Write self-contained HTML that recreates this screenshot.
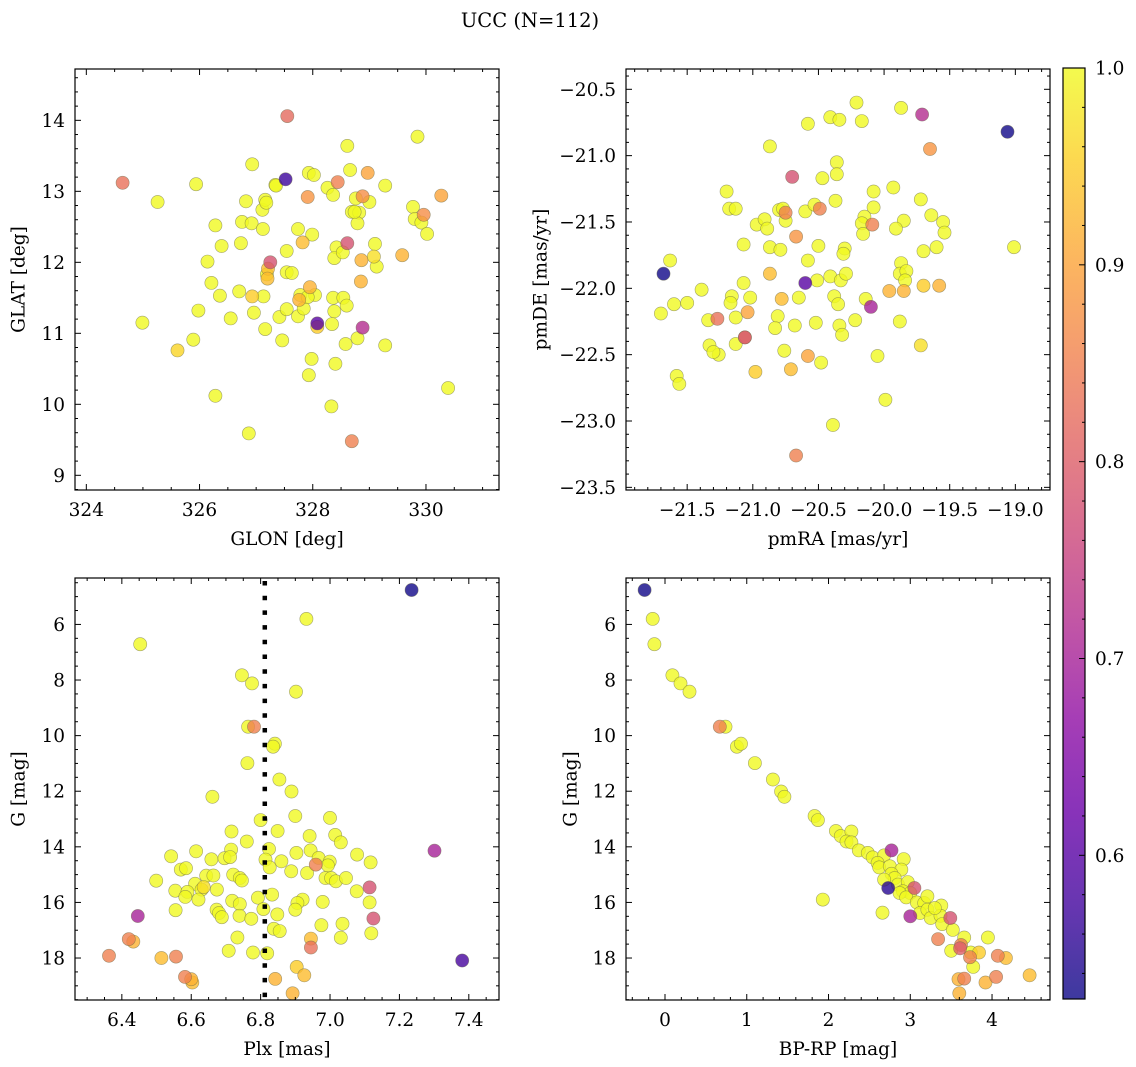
<!DOCTYPE html>
<html>
<head>
<meta charset="utf-8">
<style>
html,body{margin:0;padding:0;background:#fff;}
svg{display:block;}
text{font-family:"DejaVu Serif","Liberation Serif",serif;fill:#000;}
</style>
</head>
<body>
<svg id="fig" width="1136" height="1067" viewBox="0 0 1136 1067" xmlns="http://www.w3.org/2000/svg"></svg>
<script>
// ---------- Panel 1: GLON vs GLAT ----------
const p1Glon = [324.64,325.26,325.94,324.99,325.61,325.89,325.98,326.14,326.21,326.28,326.39,326.36,326.28,326.55,326.70,326.73,326.75,326.82,326.93,326.92,326.93,326.96,326.87,327.11,327.12,327.13,327.16,327.16,327.18,327.25,327.21,327.19,327.20,327.34,327.35,327.41,327.46,327.52,327.55,327.54,327.54,327.63,327.54,327.74,327.82,327.74,327.76,327.78,327.84,327.91,327.93,328.02,327.99,327.95,328.04,327.91,328.08,328.08,327.98,327.93,328.26,328.36,328.44,328.42,328.38,328.53,328.36,328.54,328.60,328.38,328.34,328.40,328.33,328.61,328.61,328.66,328.69,328.76,328.88,328.82,328.79,328.86,328.85,328.88,328.79,328.58,328.69,328.97,329.00,329.10,329.08,329.13,329.28,329.28,329.58,329.85,329.77,329.80,329.96,329.92,330.02,330.27,330.39,328.74];
const p1Glat = [13.12,12.85,13.10,11.15,10.76,10.91,11.32,12.01,11.71,12.52,12.23,11.53,10.12,11.21,11.59,12.27,12.57,12.86,13.38,12.55,11.52,11.29,9.59,12.74,12.47,11.52,11.06,12.88,12.84,12.00,11.91,11.83,11.77,13.09,13.08,11.23,10.90,13.17,14.06,12.16,11.86,11.85,11.34,12.47,12.28,11.24,11.47,11.54,11.35,12.92,13.26,13.23,12.39,11.65,11.54,11.51,11.14,11.09,10.64,10.41,13.05,12.95,13.13,12.21,12.06,12.14,11.50,11.50,11.39,11.31,11.13,10.57,9.97,12.27,13.64,13.30,12.71,12.90,12.93,12.70,12.55,12.03,11.73,11.08,10.93,10.85,9.48,13.26,12.85,12.26,12.08,11.94,13.08,10.83,12.10,13.77,12.78,12.61,12.67,12.56,12.40,12.94,10.23,12.71];
const p1Prob = [0.83,1,1,1,0.96,1,1,1,1,1,1,1,1,1,1,1,1,1,1,1,0.95,1,1,1,1,1,1,1,1,0.78,0.93,1,0.93,1,1,1,1,0.57,0.82,1,1,1,1,1,0.93,1,0.92,1,1,0.88,1,1,1,0.92,1,1,0.6,0.95,1,1,1,1,0.85,1,1,1,1,1,1,1,1,1,1,0.78,1,1,1,1,0.87,1,1,0.92,0.92,0.72,1,1,0.85,0.9,1,1,0.97,1,1,1,0.92,1,1,1,0.87,1,1,0.9,1,1];

// ---------- Panel 2: pmRA vs pmDE ----------
const p2Pmra = [-20.21,-19.87,-19.71,-19.06,-20.58,-20.41,-20.34,-20.17,-19.65,-20.87,-20.36,-20.36,-20.70,-20.47,-21.20,-21.18,-21.13,-20.80,-20.77,-20.75,-20.75,-20.60,-20.53,-20.49,-20.37,-20.08,-19.93,-19.72,-20.08,-20.15,-20.17,-20.09,-20.16,-19.85,-19.91,-19.64,-19.55,-19.54,-20.97,-20.91,-20.89,-20.67,-21.07,-20.87,-20.79,-20.50,-20.30,-20.31,-19.70,-19.60,-19.01,-21.63,-21.68,-20.58,-20.87,-20.60,-20.51,-20.41,-20.33,-20.29,-19.87,-19.88,-19.83,-19.84,-19.96,-19.85,-19.70,-19.58,-21.39,-21.07,-21.50,-21.60,-21.70,-21.16,-21.17,-21.02,-20.78,-20.65,-20.38,-20.35,-20.14,-20.10,-21.34,-21.27,-21.13,-21.04,-20.81,-20.83,-20.68,-20.52,-20.34,-20.32,-20.22,-19.88,-21.06,-21.06,-21.13,-21.33,-21.26,-21.30,-20.76,-20.58,-20.48,-20.71,-20.98,-20.05,-19.72,-21.58,-21.56,-19.99,-20.39,-20.67];
const p2Pmde = [-20.60,-20.64,-20.69,-20.82,-20.76,-20.71,-20.73,-20.74,-20.95,-20.93,-21.05,-21.14,-21.16,-21.17,-21.27,-21.40,-21.40,-21.41,-21.40,-21.43,-21.49,-21.42,-21.37,-21.40,-21.34,-21.27,-21.24,-21.33,-21.39,-21.46,-21.51,-21.52,-21.59,-21.49,-21.55,-21.45,-21.50,-21.58,-21.52,-21.48,-21.55,-21.61,-21.67,-21.69,-21.71,-21.68,-21.70,-21.74,-21.72,-21.69,-21.69,-21.79,-21.89,-21.79,-21.89,-21.96,-21.94,-21.91,-21.94,-21.89,-21.81,-21.89,-21.87,-21.94,-22.02,-22.02,-21.98,-21.98,-22.01,-21.96,-22.11,-22.12,-22.19,-22.06,-22.11,-22.07,-22.08,-22.07,-22.06,-22.12,-22.08,-22.14,-22.24,-22.23,-22.22,-22.18,-22.21,-22.30,-22.28,-22.26,-22.28,-22.35,-22.24,-22.25,-22.37,-22.37,-22.42,-22.43,-22.50,-22.48,-22.47,-22.51,-22.56,-22.61,-22.63,-22.51,-22.43,-22.66,-22.72,-22.84,-23.03,-23.26];
const p2Prob = [1,1,0.72,0.53,1,1,1,1,0.88,1,1,1,0.78,1,1,1,1,1,1,0.85,1,1,1,0.85,1,1,1,1,1,1,1,0.85,1,1,1,1,1,1,1,1,1,0.88,1,1,1,1,1,1,1,1,1,1,0.53,1,0.93,0.6,1,1,1,1,1,1,1,1,0.92,0.92,0.95,0.92,1,1,1,1,1,1,1,1,0.93,1,1,1,1,0.7,1,0.83,1,0.9,1,1,1,1,1,1,1,1,0.78,0.92,1,1,1,1,1,0.9,1,0.93,0.95,1,0.97,1,1,1,1,0.85];

// ---------- Panel 3: Plx vs G ----------
const p3Plx = [7.235,6.932,6.453,6.746,6.775,6.902,6.764,6.781,6.841,6.836,6.762,6.854,6.889,6.661,6.900,6.800,7.000,6.716,6.849,6.941,7.015,7.031,6.760,6.824,6.614,6.715,6.903,6.944,7.078,6.542,6.658,6.696,6.712,6.814,6.860,6.967,6.999,6.959,7.117,6.994,6.570,6.585,6.826,6.888,6.934,6.643,6.664,6.721,6.740,6.746,6.987,7.003,7.017,7.046,6.499,6.611,6.636,6.630,6.674,6.554,6.589,6.583,6.621,7.114,7.077,6.792,6.833,6.718,6.740,6.921,6.906,6.979,7.114,6.555,6.673,6.680,6.688,6.739,6.773,6.808,6.848,6.900,6.446,7.125,7.036,6.975,6.838,6.855,7.119,7.031,6.733,6.945,6.945,6.420,6.433,6.708,6.778,6.819,6.363,6.514,6.556,7.381,6.904,6.926,6.582,6.600,6.603,6.842,6.892,7.301];
const p3G = [4.76,5.80,6.71,7.83,8.12,8.42,9.68,9.68,10.29,10.40,10.99,11.58,12.01,12.20,12.89,13.04,12.96,13.45,13.43,13.61,13.57,13.84,13.81,14.08,14.16,14.10,14.22,14.13,14.28,14.34,14.45,14.41,14.37,14.46,14.52,14.40,14.53,14.64,14.56,14.67,14.82,14.77,14.74,14.88,14.94,15.04,15.03,15.00,15.12,15.21,15.12,15.12,15.24,15.12,15.22,15.33,15.45,15.54,15.54,15.58,15.62,15.80,15.90,15.46,15.60,15.83,15.72,15.94,16.06,15.90,16.02,15.98,16.00,16.28,16.26,16.38,16.53,16.48,16.59,16.24,16.43,16.26,16.49,16.58,16.77,16.82,16.95,17.03,17.11,17.27,17.26,17.30,17.62,17.32,17.41,17.74,17.80,17.83,17.92,18.00,17.95,18.09,18.32,18.62,18.68,18.76,18.88,18.75,19.27,14.14];
const p3Prob = [0.53,1,1,1,1,1,1,0.85,1,1,1,1,1,1,1,1,1,1,1,1,1,1,1,1,1,1,1,1,1,1,1,1,1,1,1,1,1,0.85,1,1,1,1,1,1,1,1,1,1,1,1,1,1,1,1,1,1,0.97,1,1,1,1,1,1,0.78,1,1,1,1,1,1,1,1,1,1,1,1,1,1,1,1,1,1,0.7,0.78,1,1,1,1,1,1,1,0.93,0.83,0.85,0.92,1,1,1,0.85,0.93,0.85,0.58,0.95,0.93,0.85,0.92,0.93,0.92,0.92,0.7];
const medianPlx = 6.812;

// ---------- Panel 4: BP-RP vs G ----------
const p4Color = [-0.25,-0.15,-0.13,0.09,0.19,0.30,0.67,0.74,0.88,0.93,1.10,1.32,1.42,1.46,1.83,1.87,1.93,2.09,2.15,2.28,2.22,2.28,2.37,2.48,2.54,2.77,2.68,2.92,2.60,2.62,2.75,2.89,2.66,2.73,2.77,2.81,2.68,2.85,2.97,3.05,2.91,3.00,2.87,2.95,3.08,3.17,3.00,3.12,3.21,3.25,3.38,3.37,3.49,3.39,3.52,3.34,3.66,3.95,3.50,3.62,3.61,3.74,3.73,3.84,3.77,4.07,4.17,3.59,3.66,3.92,4.05,4.46,3.60,3.30,3.21];
const p4G = [4.76,5.80,6.71,7.83,8.12,8.42,9.68,9.68,10.40,10.29,10.99,11.58,12.01,12.20,12.89,13.04,15.90,13.43,13.61,13.45,13.81,13.84,14.13,14.22,14.38,14.13,14.31,14.44,14.58,14.74,14.70,14.82,16.37,15.48,14.97,15.12,15.18,15.36,15.27,15.48,15.60,15.66,15.66,15.82,16.00,16.02,16.50,16.38,16.26,16.56,16.11,16.48,16.56,16.78,16.99,17.32,17.26,17.26,17.74,17.53,17.65,17.80,17.97,17.80,18.32,17.92,18.00,18.76,18.74,18.88,18.68,18.62,19.27,16.20,15.78];
const p4Prob = [0.53,1,1,1,1,1,0.85,1,1,1,1,1,1,1,1,1,1,1,1,1,1,1,1,1,1,0.7,1,1,1,1,1,1,1,0.55,1,1,1,1,1,0.78,1,1,1,1,1,1,0.7,1,1,1,1,1,0.78,1,1,0.85,1,1,1,0.85,0.8,1,0.85,0.95,1,0.85,0.93,0.92,0.85,0.92,0.85,0.93,0.92,1,1];

// ---------- Colorbar ----------
const cbTicks = [0.6,0.7,0.8,0.9,1.0];
const cbMin = 0.527, cbMax = 1.0;

const NS = 'http://www.w3.org/2000/svg';
const svg = document.getElementById('fig');
function mk(tag, attrs, parent){
  const e = document.createElementNS(NS, tag);
  for (const k in attrs) e.setAttribute(k, attrs[k]);
  (parent||svg).appendChild(e);
  return e;
}
const plasma = [[13,8,135],[65,4,157],[106,0,168],[143,13,164],[177,42,144],[204,71,120],[225,100,98],[242,132,75],[252,166,54],[252,206,37],[240,249,33]];
function cmap(v){
  let t = (v - cbMin)/(cbMax - cbMin);
  t = Math.max(0, Math.min(1, t));
  const f = t*10, i = Math.min(9, Math.floor(f)), r = f - i;
  const a = plasma[i], b = plasma[i+1];
  return 'rgb(' + [0,1,2].map(k => Math.round(a[k] + (b[k]-a[k])*r)).join(',') + ')';
}
function fmt(v, dec){
  const s = Math.abs(v).toFixed(dec);
  return (v < -1e-9 ? '\u2212' : '') + s;
}
const FS = 18.5;

const panels = [
  {name:'glon-glat', px0:75, px1:499, py0:69, py1:490, xmin:323.8, xmax:331.29, ytop:14.723, ybot:8.793,
   xmaj:[324,326,328,330], xminStep:0.5, xdec:0, ymaj:[9,10,11,12,13,14], yminStep:0.2, ydec:0,
   xlab:'GLON [deg]', ylab:'GLAT [deg]', xs:p1Glon, ys:p1Glat, cs:p1Prob, ylabX:18},
  {name:'pmra-pmde', px0:626, px1:1050, py0:69, py1:490, xmin:-21.966, xmax:-18.736, ytop:-20.347, ybot:-23.52,
   xmaj:[-21.5,-21,-20.5,-20,-19.5,-19], xminStep:0.1, xdec:1, ymaj:[-20.5,-21,-21.5,-22,-22.5,-23,-23.5], yminStep:0.1, ydec:1,
   xlab:'pmRA [mas/yr]', ylab:'pmDE [mas/yr]', xs:p2Pmra, ys:p2Pmde, cs:p2Prob, ylabX:540},
  {name:'plx-g', px0:75, px1:499, py0:578, py1:1000, xmin:6.265, xmax:7.487, ytop:4.33, ybot:19.51,
   xmaj:[6.4,6.6,6.8,7.0,7.2,7.4], xminStep:0.05, xdec:1, ymaj:[6,8,10,12,14,16,18], yminStep:0.5, ydec:0,
   xlab:'Plx [mas]', ylab:'G [mag]', xs:p3Plx, ys:p3G, cs:p3Prob, ylabX:18},
  {name:'cmd', px0:626, px1:1050, py0:578, py1:1000, xmin:-0.477, xmax:4.709, ytop:4.33, ybot:19.51,
   xmaj:[0,1,2,3,4], xminStep:0.2, xdec:0, ymaj:[6,8,10,12,14,16,18], yminStep:0.5, ydec:0,
   xlab:'BP-RP [mag]', ylab:'G [mag]', xs:p4Color, ys:p4G, cs:p4Prob, ylabX:570}
];

// title
const title = mk('text', {x:530, y:27, 'text-anchor':'middle', 'font-size':19.5});
title.textContent = 'UCC (N=112)';



panels.forEach((p) => {
  const g = mk('g', {});
  
  
  const sx = v => p.px0 + (v - p.xmin)/(p.xmax - p.xmin)*(p.px1 - p.px0);
  const sy = v => p.py0 + (v - p.ytop)/(p.ybot - p.ytop)*(p.py1 - p.py0);

  const pts = mk('g', {}, g);
  
  
  const order = p.cs.map((c,i)=>i).sort((a,b)=>p.cs[b]-p.cs[a]);
  order.forEach(i => {
    const c = mk('circle', {cx:sx(p.xs[i]).toFixed(1), cy:sy(p.ys[i]).toFixed(1), r:6.6,
      fill:cmap(p.cs[i]), 'fill-opacity':0.8, stroke:'#6b6b4a', 'stroke-opacity':0.6, 'stroke-width':0.6}, pts);
    
    
  });

  if (p.name === 'plx-g') {
    const ln = mk('line', {x1:sx(medianPlx), x2:sx(medianPlx), y1:p.py0+3, y2:p.py1, stroke:'#000', 'stroke-width':4.5, 'stroke-dasharray':'4.5 10.2'}, g);
    
    
  }

  const fr = mk('rect', {x:p.px0, y:p.py0, width:p.px1-p.px0, height:p.py1-p.py0, fill:'none', stroke:'#000', 'stroke-width':1.2}, g);
  
  

  const tk = mk('g', {stroke:'#000', 'stroke-width':1}, g);
  
  
  const xlo = Math.min(p.xmin,p.xmax), xhi = Math.max(p.xmin,p.xmax);
  for (let v = Math.ceil(xlo/p.xminStep - 1e-6)*p.xminStep; v <= xhi + 1e-9; v += p.xminStep) {
    const X = sx(v);
    const isMaj = p.xmaj.some(m => Math.abs(m - v) < 1e-6);
    const L = isMaj ? 6 : 3;
    mk('line', {x1:X, x2:X, y1:p.py1, y2:p.py1-L}, tk);
    mk('line', {x1:X, x2:X, y1:p.py0, y2:p.py0+L}, tk);
  }
  const ylo = Math.min(p.ytop,p.ybot), yhi = Math.max(p.ytop,p.ybot);
  for (let v = Math.ceil(ylo/p.yminStep - 1e-6)*p.yminStep; v <= yhi + 1e-9; v += p.yminStep) {
    const Y = sy(v);
    const isMaj = p.ymaj.some(m => Math.abs(m - v) < 1e-6);
    const L = isMaj ? 6 : 3;
    mk('line', {x1:p.px0, x2:p.px0+L, y1:Y, y2:Y}, tk);
    mk('line', {x1:p.px1, x2:p.px1-L, y1:Y, y2:Y}, tk);
  }
  p.xmaj.forEach(v => {
    const t = mk('text', {x:sx(v), y:p.py1+26, 'text-anchor':'middle', 'font-size':FS}, g);
    t.textContent = fmt(v, p.xdec);
    
    
  });
  p.ymaj.forEach(v => {
    const t = mk('text', {x:p.px0-10, y:sy(v)+6.5, 'text-anchor':'end', 'font-size':FS}, g);
    t.textContent = fmt(v, p.ydec);
    
    
  });
  const xl = mk('text', {x:(p.px0+p.px1)/2, y:p.py1+55, 'text-anchor':'middle', 'font-size':FS}, g);
  xl.textContent = p.xlab;
  
  
  const cy = (p.py0+p.py1)/2;
  const yl = mk('text', {x:p.ylabX, y:cy, 'text-anchor':'middle', 'font-size':FS, transform:'rotate(-90 '+p.ylabX+' '+cy+')', dy:'0.35em'}, g);
  yl.textContent = p.ylab;
  
  
});

// colorbar
const cb = mk('g', {});


const defs = mk('defs', {}, cb);
const grad = mk('linearGradient', {id:'plasmaGrad', x1:0, y1:1, x2:0, y2:0}, defs);
for (let k = 0; k <= 20; k++) {
  const v = cbMin + (cbMax-cbMin)*k/20;
  mk('stop', {offset:(k/20), 'stop-color':cmap(v)}, grad);
}
const cbx0 = 1063, cbx1 = 1085, cby0 = 68, cby1 = 999;
const cbr = mk('rect', {x:cbx0, y:cby0, width:cbx1-cbx0, height:cby1-cby0, fill:'url(#plasmaGrad)', 'fill-opacity':0.8}, cb);


mk('rect', {x:cbx0, y:cby0, width:cbx1-cbx0, height:cby1-cby0, fill:'none', stroke:'#000', 'stroke-width':1.2}, cb);
const cs = v => cby1 - (v - cbMin)/(cbMax-cbMin)*(cby1-cby0);
for (let v = 0.54; v <= 1.0001; v += 0.02) {
  const maj = cbTicks.some(m => Math.abs(m - v) < 1e-6);
  mk('line', {x1:cbx1, x2:cbx1-(maj?6:3), y1:cs(v), y2:cs(v), stroke:'#000', 'stroke-width':1}, cb);
}
cbTicks.forEach(v => {
  const t = mk('text', {x:cbx1+10, y:cs(v)+6.5, 'font-size':FS}, cb);
  t.textContent = v.toFixed(1);
  
  
});
</script>
</body>
</html>
